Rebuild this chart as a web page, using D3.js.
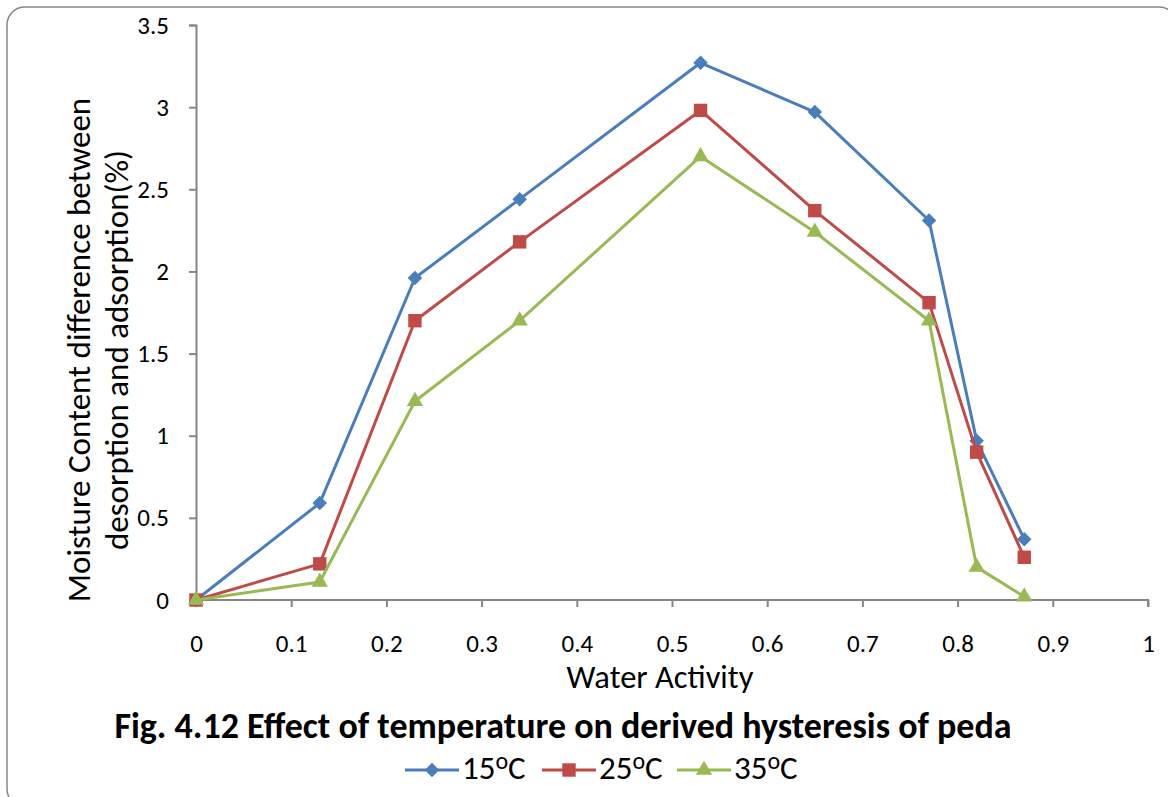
<!DOCTYPE html>
<html><head><meta charset="utf-8">
<script src="https://cdn.jsdelivr.net/npm/d3@7"></script>
<style>body{margin:0;background:#fff;} svg{display:block;font-family:Carlito,Lato,"Open Sans",sans-serif;}</style>
</head><body><svg id="c" width="1168" height="797"></svg>
<script>
const xValues = [0, 0.13, 0.23, 0.34, 0.53, 0.65, 0.77, 0.82, 0.87];
const s15 = [0, 0.59, 1.96, 2.44, 3.27, 2.97, 2.31, 0.97, 0.37];
const s25 = [0, 0.22, 1.70, 2.18, 2.98, 2.37, 1.81, 0.90, 0.26];
const s35 = [0, 0.11, 1.21, 1.70, 2.70, 2.24, 1.70, 0.20, 0.02];
const seriesLabels = ["15", "25", "35"];
const xTicks = [0, 0.1, 0.2, 0.3, 0.4, 0.5, 0.6, 0.7, 0.8, 0.9, 1];
const yTicks = [0, 0.5, 1, 1.5, 2, 2.5, 3, 3.5];
const colors = ["#4a7ebb", "#be4b48", "#98b954"];

const FF = "Carlito,Lato,'Open Sans',sans-serif";
const svg = d3.select("#c");
svg.append("rect").attr("x",7).attr("y",7).attr("width",1170).attr("height",800)
  .attr("rx",18).attr("fill","#fff").attr("stroke","#868686").attr("stroke-width",1.5);

const x = d3.scaleLinear().domain([0,1]).range([196,1148]);
const y = d3.scaleLinear().domain([0,3.5]).range([600,25]);

const xa = svg.append("g").attr("transform","translate(0,600)")
  .call(d3.axisBottom(x).tickValues(xTicks).tickFormat(d3.format("")).tickSize(7).tickPadding(27));
const ya = svg.append("g").attr("transform","translate(196,0)")
  .call(d3.axisLeft(y).tickValues(yTicks).tickFormat(d3.format("")).tickSize(7).tickPadding(20));
[xa,ya].forEach(a=>{
  a.selectAll("path,line").attr("stroke","#868686").attr("stroke-width",2);
  a.selectAll("text").attr("font-size",25).attr("fill","#000").attr("font-family",FF);
});
ya.select(".domain").attr("d","M-7,600.5H0.5V25.5H-7");
xa.select(".domain").attr("d","M196,7V0H1148V7");

function marker(k){
  if(k===0) return d3.symbol().type(d3.symbolSquare).size(105)();
  if(k===1) return d3.symbol().type(d3.symbolSquare).size(180)();
  return d3.symbol().type(d3.symbolTriangle).size(115)();
}
const all = [s15,s25,s35];
const line = d3.line().x((d,i)=>x(xValues[i])).y(d=>y(d));
all.forEach((s,k)=>{
  svg.append("path").datum(s).attr("d",line).attr("fill","none")
    .attr("stroke",colors[k]).attr("stroke-width",3).attr("stroke-linejoin","round");
  svg.append("g").selectAll("path").data(s).join("path")
    .attr("transform",(d,i)=>`translate(${x(xValues[i])},${y(d)})` + (k===0?" rotate(45)":""))
    .attr("d",marker(k)).attr("fill",colors[k]);
});

svg.append("text").attr("x",660).attr("y",688).attr("text-anchor","middle")
  .attr("font-size",32.5).text("Water Activity");
svg.append("text").attr("transform","translate(90,350) rotate(-90)").attr("text-anchor","middle")
  .attr("font-size",33).text("Moisture Content difference between");
svg.append("text").attr("transform","translate(128,350) rotate(-90)").attr("text-anchor","middle")
  .attr("font-size",33).text("desorption and adsorption(%)");
svg.append("text").attr("x",563).attr("y",738).attr("text-anchor","middle")
  .attr("font-size",36).attr("font-weight","bold").text("Fig. 4.12 Effect of temperature on derived hysteresis of peda");

const lx = [405, 542, 677];
seriesLabels.forEach((n,k)=>{
  const g = svg.append("g").attr("transform",`translate(${lx[k]},770)`);
  g.append("line").attr("x1",0).attr("x2",54).attr("stroke",colors[k]).attr("stroke-width",3);
  g.append("path").attr("transform",`translate(27,0)`+(k===0?" rotate(45)":"")).attr("d",marker(k)).attr("fill",colors[k]);
  const t = g.append("text").attr("x",57).attr("y",9).attr("font-size",33);
  t.append("tspan").text(n);
  t.append("tspan").attr("font-size",24).attr("dy",-10).text("o");
  t.append("tspan").attr("dy",10).text("C");
});
</script></body></html>
